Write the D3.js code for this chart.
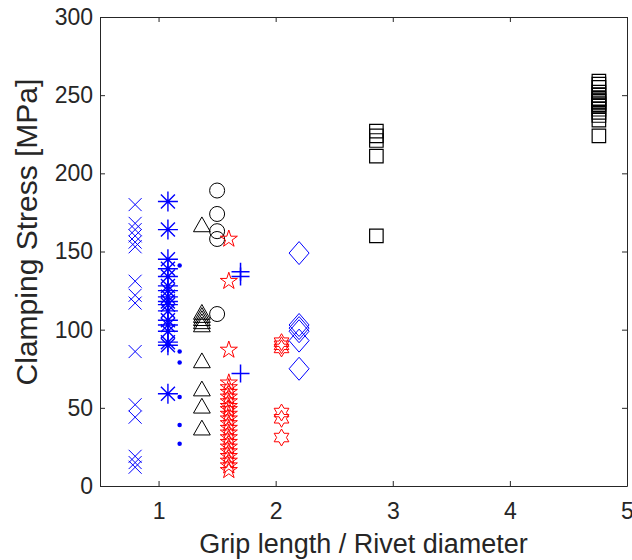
<!DOCTYPE html>
<html>
<head>
<meta charset="utf-8">
<script src="https://cdn.jsdelivr.net/npm/d3@7"></script>
<style>
body { margin: 0; background: #fff; }
svg { font-family: "Liberation Sans", Arial, sans-serif; }
</style>
</head>
<body>
<div id="chart"></div>
<script>
// tick values
var xTicks = [1, 2, 3, 4, 5];
var yTicks = [0, 50, 100, 150, 200, 250, 300];

// x position of each group (grip length / rivet diameter)
var groupX = [0.8, 1.08, 1.18, 1.37, 1.5, 1.6, 1.7, 2.05, 2.2, 2.86, 4.76];

// clamping stress values, one array per group
var timesY = [180, 168, 164, 160, 156, 153, 131, 122, 117, 86, 52, 44, 19, 15, 12];
var asteriskY = [182, 164, 145, 139, 134, 128, 125, 121, 118, 116, 112, 106, 103, 99, 92, 90, 59];
var dotY = [141, 86, 79, 57, 39, 27];
var triangleY = [167, 111, 109, 107, 105, 103, 80, 62, 51, 37];
var circleY = [189, 174, 163, 158, 110];
var pentagramY = [158, 131, 87, 66, 63, 60, 57, 54, 51, 49, 46, 43, 40, 37, 34, 31, 28, 25, 22, 19, 16, 13, 10];
var plusY = [137, 134, 72];
var hexagramY = [92, 90, 88, 47, 43, 31];
var diamondY = [149, 103, 101, 99, 93, 75];
var squareY1 = [227, 224, 221, 211, 160];
var squareY2 = [259, 257, 255, 252, 250, 248, 247, 246, 245, 244, 243, 241, 239, 237, 234, 224];

var width = 632, height = 560;
var margin = {top: 17, right: 5, bottom: 74, left: 100};
var plotW = width - margin.left - margin.right,
	plotH = height - margin.top - margin.bottom;

var blue = "#0000ff", red = "#ff0000", black = "#000000", axisColor = "#262626";

// matlab style marker shapes, size = diameter^2
function star(n, ratio) {
	return {
		draw: function (c, s) {
			var R = Math.sqrt(s) / 2, r = R * ratio;
			for (var i = 0; i < 2 * n; i++) {
				var a = -Math.PI / 2 + i * Math.PI / n,
					rr = i % 2 ? r : R;
				if (i == 0) c.moveTo(rr * Math.cos(a), rr * Math.sin(a));
				else c.lineTo(rr * Math.cos(a), rr * Math.sin(a));
			}
			c.closePath();
		}
	};
}
var markers = {
	times: {draw: function (c, s) {
		var r = Math.sqrt(s) / 2;
		c.moveTo(-r, -r); c.lineTo(r, r);
		c.moveTo(-r, r); c.lineTo(r, -r);
	}},
	plus: {draw: function (c, s) {
		var r = Math.sqrt(s) / 2;
		c.moveTo(-r, 0); c.lineTo(r, 0);
		c.moveTo(0, -r); c.lineTo(0, r);
	}},
	asterisk: {draw: function (c, s) {
		var r = Math.sqrt(s) / 2, k = r * 0.7;
		c.moveTo(-r, 0); c.lineTo(r, 0);
		c.moveTo(0, -r); c.lineTo(0, r);
		c.moveTo(-k, -k); c.lineTo(k, k);
		c.moveTo(-k, k); c.lineTo(k, -k);
	}},
	circle: {draw: function (c, s) {
		var r = Math.sqrt(s) / 2;
		c.moveTo(r, 0); c.arc(0, 0, r, 0, 2 * Math.PI);
	}},
	triangle: {draw: function (c, s) {
		var r = Math.sqrt(s) / 2;
		c.moveTo(0, -r); c.lineTo(r * 1.05, r * 0.85); c.lineTo(-r * 1.05, r * 0.85);
		c.closePath();
	}},
	square: {draw: function (c, s) {
		var r = Math.sqrt(s) / 2;
		c.rect(-r, -r, 2 * r, 2 * r);
	}},
	diamond: {draw: function (c, s) {
		var r = Math.sqrt(s) / 2;
		c.moveTo(0, -r * 1.15); c.lineTo(r, 0); c.lineTo(0, r * 1.15); c.lineTo(-r, 0);
		c.closePath();
	}},
	pentagram: star(5, 0.382),
	hexagram: star(6, 0.577)
};

var series = [
	{x: groupX[0], ys: timesY, type: "times", d: 13, color: blue, w: 1},
	{x: groupX[1], ys: asteriskY, type: "asterisk", d: 20, color: blue, w: 1.4},
	{x: groupX[2], ys: dotY, type: "circle", d: 4.5, color: blue, w: 0, fill: true},
	{x: groupX[3], ys: triangleY, type: "triangle", d: 16, color: black, w: 1},
	{x: groupX[4], ys: circleY, type: "circle", d: 15, color: black, w: 1},
	{x: groupX[5], ys: pentagramY, type: "pentagram", d: 18, color: red, w: 1},
	{x: groupX[6], ys: plusY, type: "plus", d: 18, color: blue, w: 1.5},
	{x: groupX[7], ys: hexagramY, type: "hexagram", d: 17, color: red, w: 1},
	{x: groupX[8], ys: diamondY, type: "diamond", d: 20, color: blue, w: 1},
	{x: groupX[9], ys: squareY1, type: "square", d: 13.5, color: black, w: 1.2},
	{x: groupX[10], ys: squareY2, type: "square", d: 13.5, color: black, w: 1.2}
];

var svg = d3.select("#chart")
	.append("svg")
	.attr("width", width)
	.attr("height", height);

var plot = svg.append("g")
	.attr("transform", "translate(" + margin.left + "," + margin.top + ")");

var x = d3.scaleLinear().domain([0.5, 5]).range([0, plotW]);
var y = d3.scaleLinear().domain([0, 300]).range([plotH, 0]);

// axes, ticks pointing inward like matlab's box
function styleAxis(g) {
	g.select(".domain").attr("stroke", axisColor);
	g.selectAll(".tick line").attr("stroke", axisColor);
	g.selectAll(".tick text").attr("fill", axisColor).attr("font-size", 23);
}
plot.append("g")
	.attr("transform", "translate(0," + plotH + ")")
	.call(d3.axisBottom(x).tickValues(xTicks).tickFormat(d3.format("d")).tickSize(-5).tickSizeOuter(0).tickPadding(17))
	.call(styleAxis);
plot.append("g")
	.call(d3.axisLeft(y).tickValues(yTicks).tickSize(-5).tickSizeOuter(0).tickPadding(7))
	.call(styleAxis);
plot.append("g")
	.call(d3.axisTop(x).tickValues(xTicks).tickFormat("").tickSize(-5).tickSizeOuter(0))
	.call(styleAxis);
plot.append("g")
	.attr("transform", "translate(" + plotW + ",0)")
	.call(d3.axisRight(y).tickValues(yTicks).tickFormat("").tickSize(-5).tickSizeOuter(0))
	.call(styleAxis);

// markers
series.forEach(function (s) {
	var sym = d3.symbol().type(markers[s.type]).size(s.d * s.d);
	plot.append("g")
		.selectAll("path")
		.data(s.ys)
		.enter()
		.append("path")
		.attr("transform", function (d) {
			return "translate(" + x(s.x) + "," + y(d) + ")";
		})
		.attr("d", sym)
		.attr("fill", s.fill ? s.color : "none")
		.attr("stroke", s.fill ? "none" : s.color)
		.attr("stroke-width", s.w);
});

// axis titles
svg.append("text")
	.attr("x", margin.left + plotW / 2)
	.attr("y", 553)
	.attr("text-anchor", "middle")
	.attr("font-size", 27)
	.attr("fill", axisColor)
	.text("Grip length / Rivet diameter");

svg.append("text")
	.attr("transform", "translate(37,232) rotate(-90)")
	.attr("text-anchor", "middle")
	.attr("font-size", 30)
	.attr("fill", axisColor)
	.text("Clamping Stress [MPa]");
</script>
</body>
</html>
